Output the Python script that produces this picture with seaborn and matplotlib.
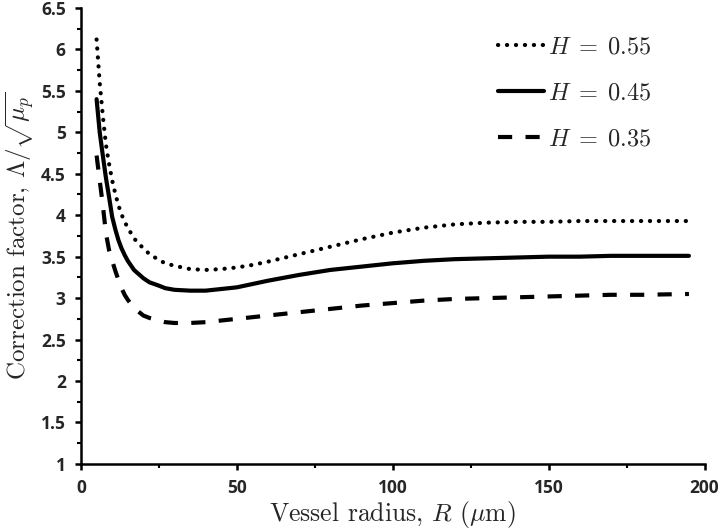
import matplotlib
matplotlib.use("Agg")
import matplotlib.pyplot as plt
import numpy as np
import pandas as pd
import seaborn as sns
from matplotlib.ticker import MultipleLocator, FuncFormatter

# vessel radius (um) and correction factor for three haematocrit values
radius = [5, 6, 7, 8, 9, 10, 11, 12, 13, 14, 15, 17, 20, 22, 25, 27, 30, 35, 40,
          45, 50, 55, 60, 70, 80, 90, 100, 110, 120, 130, 140, 150, 160, 170,
          180, 195]
h055 = [6.12, 5.60, 5.20, 4.85, 4.62, 4.42, 4.26, 4.12, 4.01, 3.92, 3.85, 3.72,
        3.60, 3.53, 3.46, 3.42, 3.39, 3.35, 3.34, 3.35, 3.37, 3.40, 3.44, 3.53,
        3.62, 3.71, 3.79, 3.85, 3.89, 3.91, 3.92, 3.92, 3.93, 3.93, 3.93, 3.93]
h045 = [5.40, 5.00, 4.72, 4.45, 4.22, 3.98, 3.83, 3.70, 3.60, 3.52, 3.45, 3.34,
        3.24, 3.19, 3.15, 3.12, 3.10, 3.09, 3.09, 3.11, 3.13, 3.17, 3.21, 3.28,
        3.34, 3.38, 3.42, 3.45, 3.47, 3.48, 3.49, 3.50, 3.50, 3.51, 3.51, 3.51]
h035 = [4.72, 4.42, 4.12, 3.78, 3.58, 3.45, 3.33, 3.22, 3.12, 3.04, 2.98, 2.88,
        2.79, 2.76, 2.73, 2.71, 2.70, 2.70, 2.71, 2.73, 2.75, 2.77, 2.79, 2.83,
        2.87, 2.91, 2.94, 2.97, 2.99, 3.00, 3.01, 3.02, 3.03, 3.04, 3.04, 3.05]
labels = ["$H\\;=\\;0.55$", "$H\\;=\\;0.45$", "$H\\;=\\;0.35$"]

sns.set_style("ticks")
plt.rcParams["mathtext.fontset"] = "cm"
plt.rcParams["font.family"] = ["DejaVu Sans"]

fig = plt.figure(figsize=(7.2, 5.32), dpi=100)
ax = fig.add_axes([0.1125, 0.128, 0.866, 0.857])

lw = 3
styles = [
    dict(linestyle=(0, (0.05, 2.1)), dash_capstyle="round"),
    dict(linestyle="-", solid_capstyle="round"),
    dict(linestyle=(0, (3.4, 3.2)), dash_capstyle="butt"),
]
for vals, lab, st in zip([h055, h045, h035], labels, styles):
    df = pd.DataFrame({"R": radius, "val": vals})
    sns.lineplot(data=df, x="R", y="val", ax=ax, color="black", lw=lw,
                 label=lab, **st)

ax.set_xlim(0, 200)
ax.set_ylim(1, 6.5)
ax.xaxis.set_major_locator(MultipleLocator(50))
ax.xaxis.set_minor_locator(MultipleLocator(25))
ax.yaxis.set_major_locator(MultipleLocator(0.5))
ax.yaxis.set_minor_locator(MultipleLocator(0.25))
ax.yaxis.set_major_formatter(FuncFormatter(lambda v, p: f"{v:g}"))

for s in ["top", "right"]:
    ax.spines[s].set_visible(False)
for s in ["left", "bottom"]:
    ax.spines[s].set_linewidth(1.8)
    ax.spines[s].set_color("black")

ax.tick_params(which="major", length=4, width=1.8, color="black", pad=7)
ax.tick_params(which="minor", length=3, width=1.5, color="black")
for t in ax.get_xticklabels() + ax.get_yticklabels():
    t.set_fontfamily("Open Sans")
    t.set_fontweight("bold")
    t.set_fontsize(12.5)

ax.set_xlabel("Vessel radius, $R$ $(\\mu\\mathrm{m})$", family="cmr10",
              fontsize=18.5, labelpad=1)
ax.set_ylabel("Correction factor, $\\Lambda/\\sqrt{\\mu_p}$", family="cmr10",
              fontsize=18, labelpad=3)

leg = ax.legend(loc="upper right", bbox_to_anchor=(0.95, 0.99), frameon=False,
                fontsize=17.5, handlelength=1.9, handletextpad=0.15,
                labelspacing=0.9)

fig.savefig("out.png", dpi=100)
